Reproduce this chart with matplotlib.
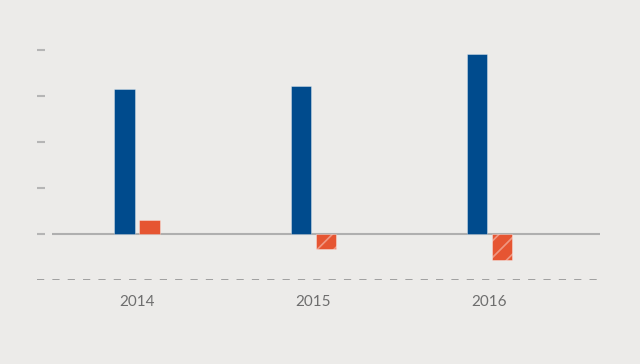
import matplotlib
matplotlib.use("Agg")
from matplotlib import pyplot as plt
import numpy as np

years = ["2014", "2015", "2016"]
blue_vals = [3.15, 3.22, 3.91]
orange_vals = [0.30, -0.33, -0.57]
yticks = [0, 1, 2, 3, 4]

bg = "#ECEBE9"
blue = "#004B8D"
orange = "#E65532"

plt.rcParams['font.family'] = ['Lato', 'DejaVu Sans']
plt.rcParams['hatch.color'] = (1, 1, 1, 0.5)
plt.rcParams['hatch.linewidth'] = 1.2

fig = plt.figure(figsize=(6.4, 3.64), dpi=100, facecolor=bg)
ax = fig.add_axes([37 / 640, (364 - 280) / 364, (600 - 37) / 640, (280 - 27) / 364])
ax.set_facecolor(bg)

x = np.arange(len(years))
w = 0.114
off = 0.071
ax.bar(x - off, blue_vals, width=w, color=blue, edgecolor=(1, 1, 1, 0.4), linewidth=0.6, zorder=3)
for xi, v in zip(x, orange_vals):
    ax.bar(xi + off, v, width=w, color=orange, edgecolor=(1, 1, 1, 0.4), linewidth=0.6,
           hatch='//' if v < 0 else None, zorder=3)

# zero line and dashed base line
ax.plot([-0.483, 2.63], [0, 0], color="#AFAFAF", lw=1.5, zorder=2, solid_capstyle='butt')
ax.axhline(-1, color="#9A9A9A", lw=1.3, dashes=(4, 4.5), zorder=2)

ax.set_xlim(-0.568, 2.63)
ax.set_ylim(-1, 4.5)
ax.set_yticks(yticks)
ax.set_yticklabels([])
ax.tick_params(axis='y', length=6, width=1.5, color="#B5B5B5", direction='in', pad=0)
ax.set_xticks(x)
ax.set_xticklabels(years, color="#6E6E6E", fontsize=11)
ax.tick_params(axis='x', length=0, pad=11)
for s in ax.spines.values():
    s.set_visible(False)

fig.savefig("out.png", dpi=100, facecolor=bg)
